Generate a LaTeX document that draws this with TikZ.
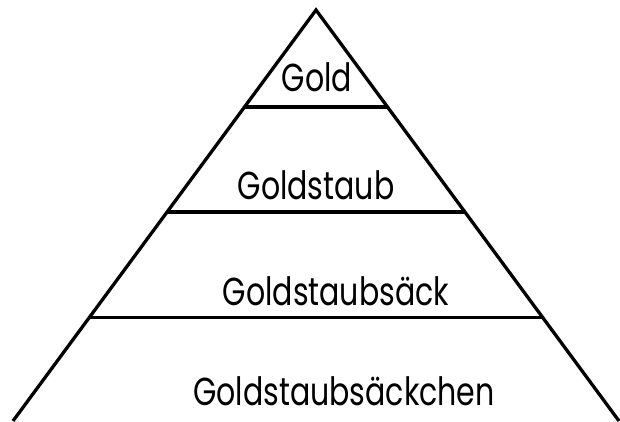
\documentclass[tikz,border=0pt]{standalone}
\usepackage{fontspec}
\setmainfont[FakeStretch=0.77]{Poppins}
\usetikzlibrary{calc}
\begin{document}
\begin{tikzpicture}[x=1pt,y=1pt,
  edge/.style={line width=3.3pt, line cap=butt, line join=miter},
  lbl/.style={font=\fontsize{39}{44}\selectfont, anchor=base, inner sep=0pt}]
\useasboundingbox (0,0) rectangle (620,421);
\clip (0,0) rectangle (620,421);
\coordinate (apex) at (316,411);
\coordinate (bl) at (13,0);
\coordinate (br) at (619,0);
\coordinate (l1) at ($(apex)!0.236!(bl)$);
\coordinate (r1) at ($(apex)!0.236!(br)$);
\coordinate (l2) at ($(apex)!0.4915!(bl)$);
\coordinate (r2) at ($(apex)!0.4915!(br)$);
\coordinate (l3) at ($(apex)!0.749!(bl)$);
\coordinate (r3) at ($(apex)!0.749!(br)$);
\draw[edge] (bl) -- (apex) -- (br);
\draw[edge] (l1) -- (r1);
\draw[edge] (l2) -- (r2);
\draw[edge] (l3) -- (r3);
\node[lbl] (t1) at (317,329) {Gold};
\node[lbl] (t2) at (316,222) {Goldstaub};
\node[lbl] (t3) at (336,116) {Goldstaubsäck};
\node[lbl] (t4) at (344,16) {Goldstaubsäckchen};
\end{tikzpicture}
\end{document}
